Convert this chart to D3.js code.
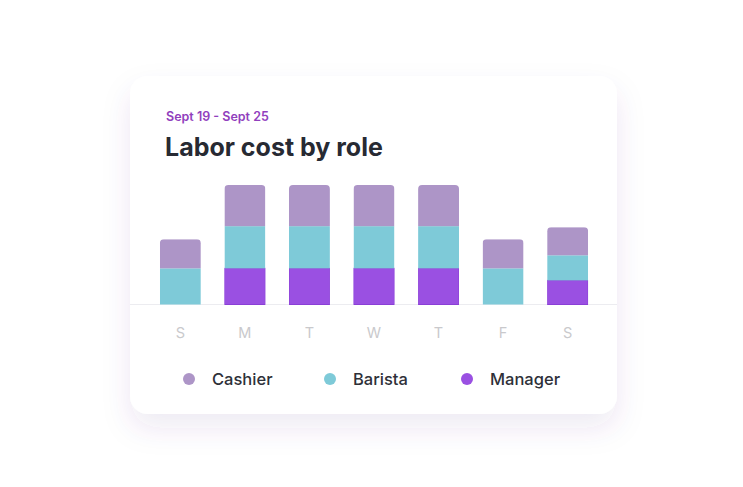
<!DOCTYPE html>
<html>
<head>
<meta charset="utf-8">
<script src="https://cdn.jsdelivr.net/npm/d3@7"></script>
<style>
  html, body { margin: 0; padding: 0; background: #fff; }
  svg { display: block; font-family: Inter, "Noto Sans", sans-serif; }
</style>
</head>
<body>
<div id="chart"></div>
<script>
const days = ['S', 'M', 'T', 'W', 'T', 'F', 'S']
const roles = ['Manager', 'Barista', 'Cashier']
const legendRoles = ['Cashier', 'Barista', 'Manager']
const manager = [0, 36, 36, 36, 36, 0, 24]
const barista = [36, 42, 42, 42, 42, 36, 25]
const cashier = [29, 41, 41, 41, 41, 29, 28]
const colors = { Cashier: '#ad95c7', Barista: '#7ecad8', Manager: '#9a50e2' }

const width = 743
const height = 487
const card = { x: 130, y: 76, w: 487, h: 338, r: 18 }

const rows = days.map((d, i) => ({ key: i, day: d, Manager: manager[i], Barista: barista[i], Cashier: cashier[i] }))

const svg = d3.select('#chart').append('svg')
  .attr('width', width)
  .attr('height', height)

const defs = svg.append('defs')
const shadow = defs.append('filter')
  .attr('id', 'shadow')
  .attr('x', '-20%').attr('y', '-20%')
  .attr('width', '140%').attr('height', '150%')
shadow.append('feDropShadow')
  .attr('dx', 0).attr('dy', 14)
  .attr('stdDeviation', 14)
  .attr('flood-color', '#5a3f8a')
  .attr('flood-opacity', 0.1)

svg.append('rect')
  .attr('x', card.x).attr('y', card.y)
  .attr('width', card.w).attr('height', card.h)
  .attr('rx', card.r)
  .attr('fill', '#fff')
  .attr('filter', 'url(#shadow)')

svg.append('text')
  .text('Sept 19 - Sept 25')
  .attr('x', 166).attr('y', 121)
  .attr('fill', '#9140bd')
  .attr('style', 'font-size:12.5px;font-weight:600;')

svg.append('text')
  .text('Labor cost by role')
  .attr('x', 165).attr('y', 156)
  .attr('fill', '#272a33')
  .attr('style', 'font-size:25px;font-weight:700;')

// scales
const xScale = d3.scaleBand()
  .domain(d3.range(days.length))
  .range([147, 601])
  .paddingInner(0.366)
  .paddingOuter(0.2)

const stack = d3.stack().keys(roles)
const series = stack(rows)

const yScale = d3.scaleLinear()
  .domain([0, d3.max(series[series.length - 1], d => d[1])])
  .range([304.5, 185])

// baseline
svg.append('line')
  .attr('x1', card.x).attr('x2', card.x + card.w)
  .attr('y1', yScale(0)).attr('y2', yScale(0))
  .attr('stroke', '#ececf0')
  .attr('stroke-width', 1)

// clip bars so only the top corners are rounded
const g = svg.append('g')
rows.forEach((r, i) => {
  const total = r.Manager + r.Barista + r.Cashier
  defs.append('clipPath')
    .attr('id', 'clip' + i)
    .append('rect')
    .attr('x', xScale(i))
    .attr('y', yScale(total))
    .attr('width', xScale.bandwidth())
    .attr('height', yScale(0) - yScale(total) + 8)
    .attr('rx', 4)
})

series.forEach(s => {
  g.selectAll(null)
    .data(s)
    .enter()
    .append('rect')
    .attr('clip-path', (d, i) => `url(#clip${i})`)
    .attr('x', (d, i) => xScale(i))
    .attr('y', d => yScale(d[1]))
    .attr('width', xScale.bandwidth())
    .attr('height', d => yScale(d[0]) - yScale(d[1]))
    .attr('fill', colors[s.key])
    .attr('stroke', s.key === 'Manager' ? '#8a3fd6' : 'none')
    .attr('stroke-width', s.key === 'Manager' ? 1 : 0)
})

// x axis labels
const xAxis = d3.axisBottom(xScale)
  .tickSize(0)
  .tickPadding(0)
  .tickFormat(i => days[i])
const xAxisG = svg.append('g')
  .attr('transform', `translate(0,${yScale(0)})`)
  .call(xAxis)
xAxisG.select('.domain').remove()
xAxisG.selectAll('text')
  .attr('dy', 0)
  .attr('y', 33)
  .attr('fill', '#c9c9cc')
  .attr('style', 'font-size:14.5px;font-weight:400;font-family:Inter, sans-serif;')

// legend
const legendX = [189, 330, 467]
const legend = svg.append('g')
legendRoles.forEach((role, i) => {
  const item = legend.append('g').attr('transform', `translate(${legendX[i]},379)`)
  item.append('circle').attr('r', 6).attr('fill', colors[role])
  item.append('text')
    .text(role)
    .attr('x', 23)
    .attr('dy', '0.35em')
    .attr('fill', '#2e3038')
    .attr('style', 'font-size:16.5px;font-weight:500;')
})
</script>
</body>
</html>
